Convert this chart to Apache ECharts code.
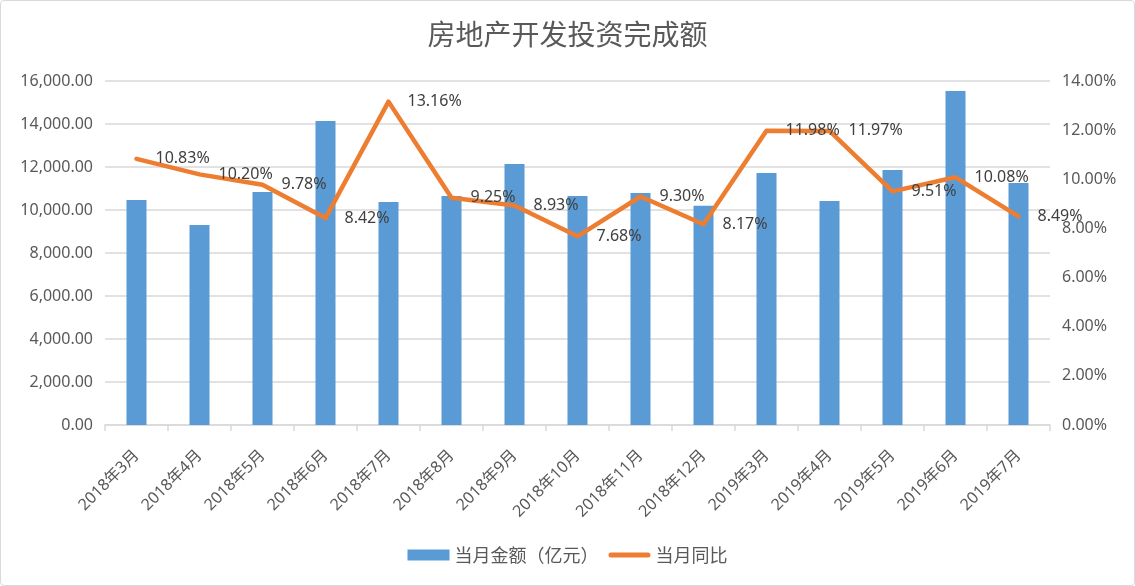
<!DOCTYPE html>
<html>
<head>
<meta charset="utf-8">
<script src="https://cdn.jsdelivr.net/npm/echarts@6/dist/echarts.min.js"></script>
<style>
  html, body { margin: 0; padding: 0; background: #fff; }
  #chart {
    width: 1133px;
    height: 584px;
    border: 1px solid #d9d9d9;
    border-radius: 4px;
  }
</style>
</head>
<body>
<div id="chart"></div>
<script>
  // 数据
  const categories = [
    '2018年3月', '2018年4月', '2018年5月', '2018年6月', '2018年7月',
    '2018年8月', '2018年9月', '2018年10月', '2018年11月', '2018年12月',
    '2019年3月', '2019年4月', '2019年5月', '2019年6月', '2019年7月',
  ];
  const amountData = [
    10460, 9300, 10840, 14140, 10370,
    10650, 12140, 10650, 10790, 10200,
    11720, 10420, 11860, 15540, 11260,
  ];
  const yoyData = [
    10.83, 10.20, 9.78, 8.42, 13.16,
    9.25, 8.93, 7.68, 9.30, 8.17,
    11.98, 11.97, 9.51, 10.08, 8.49,
  ];
  const seriesNames = ['当月金额（亿元）', '当月同比'];

  const fontFamily = '"Noto Sans", "Noto Sans CJK SC", sans-serif';
  const textColor = '#595959';
  const gridColor = '#d9d9d9';

  const chart = echarts.init(document.getElementById('chart'));

  chart.setOption({
    animation: false,
    textStyle: { fontFamily },
    title: {
      text: '房地产开发投资完成额',
      left: 'center',
      top: 14,
      textStyle: {
        fontSize: 28,
        fontWeight: 'normal',
        color: textColor,
        fontFamily: '"Noto Sans CJK SC", sans-serif',
      },
    },
    legend: {
      bottom: 16,
      left: 'center',
      itemWidth: 42,
      itemHeight: 11,
      itemGap: 10,
      textStyle: {
        fontSize: 18,
        color: textColor,
        fontFamily: '"Noto Sans CJK SC", sans-serif',
      },
      data: [
        { name: seriesNames[0], icon: 'rect' },
        { name: seriesNames[1], icon: 'path://M2.5,0 H39.5 A2.5,2.5 0 0 1 39.5,5 H2.5 A2.5,2.5 0 0 1 2.5,0 Z' },
      ],
    },
    grid: {
      left: 104,
      right: 84,
      top: 80,
      bottom: 160,
    },
    xAxis: {
      type: 'category',
      data: categories,
      axisLine: { lineStyle: { color: gridColor, width: 1.5 } },
      axisTick: { show: true, length: 6, lineStyle: { color: gridColor, width: 1.5 } },
      axisLabel: {
        rotate: 45,
        interval: 0,
        margin: 28,
        fontSize: 16,
        color: textColor,
      },
    },
    yAxis: [
      {
        type: 'value',
        min: 0,
        max: 16000,
        interval: 2000,
        axisLine: { show: false },
        axisTick: { show: false },
        splitLine: { lineStyle: { color: gridColor, width: 1.5 } },
        axisLabel: {
          fontSize: 16,
          color: textColor,
          margin: 12,
          formatter: (v) => v.toLocaleString('en-US', { minimumFractionDigits: 2, maximumFractionDigits: 2 }),
        },
      },
      {
        type: 'value',
        min: 0,
        max: 14,
        interval: 2,
        axisLine: { show: false },
        axisTick: { show: false },
        splitLine: { show: false },
        axisLabel: {
          fontSize: 16,
          color: textColor,
          margin: 12,
          formatter: (v) => v.toFixed(2) + '%',
        },
      },
    ],
    series: [
      {
        name: seriesNames[0],
        type: 'bar',
        data: amountData,
        barWidth: 20,
        itemStyle: { color: '#5B9BD5' },
      },
      {
        name: seriesNames[1],
        type: 'line',
        yAxisIndex: 1,
        data: yoyData,
        symbol: 'circle',
        symbolSize: 2,
        itemStyle: { color: '#ED7D31' },
        lineStyle: { color: '#ED7D31', width: 4.5, join: 'round', cap: 'round' },
        label: {
          show: true,
          position: 'right',
          distance: 18,
          fontSize: 16,
          color: '#404040',
          formatter: (p) => p.value.toFixed(2) + '%',
        },
        z: 3,
      },
    ],
  });
</script>
</body>
</html>
